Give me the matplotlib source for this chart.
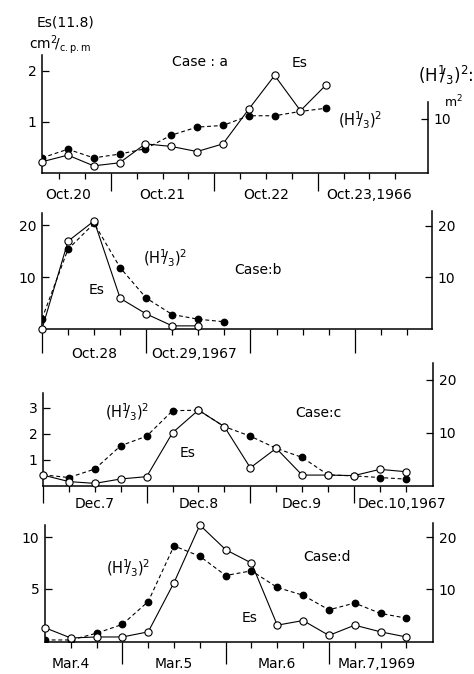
import matplotlib
matplotlib.use("Agg")
import matplotlib.pyplot as plt

W, H = 474, 674

# Case a: Oct 20-23, 1966 (hours from Oct 20 00h)
a_hours = [8, 14, 20, 26, 32, 38, 44, 50, 56, 62, 68, 74]
a_es = [0.22, 0.35, 0.14, 0.2, 0.57, 0.52, 0.42, 0.57, 1.25, 1.91, 1.22, 1.73]
a_h2 = [2.8, 4.4, 2.8, 3.5, 4.5, 7.0, 8.5, 8.8, 10.6, 10.6, 11.4, 12.0]
a_days = ["Oct.20", "Oct.21", "Oct.22", "Oct.23,1966"]

# Case b: Oct 28-29, 1967 (hours from Oct 28 00h)
b_es_hours = [0, 6, 12, 18, 24, 30, 36]
b_es = [0.0, 16.9, 20.8, 5.9, 2.9, 0.6, 0.6]
b_h2_hours = [0, 6, 12, 18, 24, 30, 36, 42]
b_h2 = [2.0, 15.5, 20.5, 11.9, 6.0, 2.8, 1.9, 1.4]
b_days = ["Oct.28", "Oct.29,1967"]

# Case c: Dec 7-10, 1967 (hours from Dec 7 00h)
c_hours = [0, 6, 12, 18, 24, 30, 36, 42, 48, 54, 60, 66, 72, 78, 84]
c_es = [0.42, 0.17, 0.1, 0.27, 0.36, 2.05, 2.92, 2.28, 0.7, 1.45, 0.42, 0.42, 0.4, 0.64, 0.55]
c_h2 = [2.1, 1.6, 3.2, 7.6, 9.4, 14.2, 14.3, 11.2, 9.4, 7.1, 5.4, 2.1, 1.9, 1.6, 1.3]
c_days = ["Dec.7", "Dec.8", "Dec.9", "Dec.10,1967"]

# Case d: Mar 4-7, 1969 (hours from Mar 4 00h)
d_hours = [6, 12, 18, 24, 30, 36, 42, 48, 54, 60, 66, 72, 78, 84, 90]
d_es = [1.2, 0.2, 0.3, 0.3, 0.8, 5.6, 11.2, 8.8, 7.5, 1.45, 1.9, 0.45, 1.45, 0.8, 0.3]
d_h2 = [0.2, 0.2, 1.5, 3.2, 7.6, 18.3, 16.3, 12.6, 13.5, 10.3, 8.8, 6.0, 7.3, 5.3, 4.4]
d_days = ["Mar.4", "Mar.5", "Mar.6", "Mar.7,1969"]

H2 = r"(H$^{1}\!\!/_{3}$)$^{2}$"
FS = 10

fig = plt.figure(figsize=(W / 100, H / 100), dpi=100)


def panel(box, xlim, ylim_l, ylim_r, left_top, right_top, lticks, rticks,
          majors, minors, tick_len, label_x, label_off, days):
    left, right, top, bottom = box
    ax = fig.add_axes([left / W, 1 - bottom / H, (right - left) / W, (bottom - top) / H])
    ax.set_xlim(*xlim)
    ax.set_ylim(*ylim_l)
    ax2 = ax.twinx()
    ax2.set_ylim(*ylim_r)
    for s in ["top", "right"]:
        ax.spines[s].set_visible(False)
    for s in ["top", "left", "bottom"]:
        ax2.spines[s].set_visible(False)
    ax.spines["left"].set_bounds(ylim_l[0], left_top)
    ax2.spines["right"].set_bounds(ylim_r[0], right_top)
    for sp in [ax.spines["left"], ax.spines["bottom"], ax2.spines["right"]]:
        sp.set_linewidth(1.1)
    ax.set_yticks(lticks)
    ax.set_yticklabels([str(t) for t in lticks])
    ax2.set_yticks(rticks)
    ax2.set_yticklabels([str(t) for t in rticks])
    ax.tick_params(axis="y", direction="in", length=5, width=0.9, labelsize=FS, pad=4)
    ax2.tick_params(axis="y", direction="in", length=5, width=0.9, labelsize=FS, pad=4)
    ax.set_xticks(majors)
    ax.set_xticks(minors, minor=True)
    ax.tick_params(axis="x", which="major", direction="out", length=tick_len, width=0.9,
                   labelbottom=False)
    ax.tick_params(axis="x", which="minor", direction="out", length=4, width=0.9)
    for x, d in zip(label_x, days):
        ax.annotate(d, xy=(x, 0), xycoords=("data", "axes fraction"),
                    xytext=(0, -label_off), textcoords="offset points",
                    ha="center", va="center", fontsize=FS)
    return ax, ax2


def draw(ax, ax2, xe, es, xh, h2):
    ax2.plot(xh, h2, color="black", lw=0.8, ls=(0, (3.5, 2.5)), marker="o", ms=4.6,
             mfc="black", mec="black", zorder=2)
    ax.set_zorder(ax2.get_zorder() + 1)
    ax.patch.set_visible(False)
    ax.plot(xe, es, color="black", lw=0.8, marker="o", ms=5.2, mfc="white",
            mec="black", mew=0.8, zorder=3, clip_on=False)


def ftext(x, y, s, size=FS):
    fig.text(x / W, 1 - y / H, s, ha="center", va="center", fontsize=size)


six = [h for h in range(6, 96, 6) if h % 24]

# Case a
ax, ax2 = panel((42, 428, 55, 173), (8, 97.6), (0, 2.31), (0, 21.85), 2.31, 13.1,
                [1, 2], [10], [24, 48, 72], [h for h in six if h >= 12 and h <= 90],
                13, [14, 36, 60, 84], 16, a_days)
draw(ax, ax2, a_hours, a_es, a_hours, a_h2)
ftext(65, 22, "Es(11.8)")
ftext(60, 45, r"cm$^{2}\!$/$_{\mathrm{c.p.m}}$")
ftext(200, 62, "Case : a")
ftext(300, 63, "Es")
ftext(360, 120, H2, 10.5)
ftext(446, 75, H2 + ":", 12)
ftext(453, 102, r"m$^{2}$", 9)

# Case b
ax, ax2 = panel((42, 432, 211, 329), (0, 89.8), (0, 22.7), (0, 22.9), 22.3, 22.9,
                [10, 20], [10, 20], [0, 24, 48, 72], [h for h in six if h <= 84],
                17, [12, 35], 18, b_days)
draw(ax, ax2, b_es_hours, b_es, b_h2_hours, b_h2)
ftext(165, 258, H2, 10.5)
ftext(97, 290, "Es")
ftext(258, 270, "Case:b")

# Case c
ax, ax2 = panel((43, 433, 363, 486), (0, 90.3), (0, 4.73), (0, 23.2), 3.58, 23.2,
                [1, 2, 3], [10, 20], [0, 24, 48, 72], [h for h in six if h <= 84],
                12, [12, 36, 60, 83], 13, c_days)
draw(ax, ax2, c_hours, c_es, c_hours, c_h2)
ftext(127, 412, H2, 10.5)
ftext(188, 453, "Es")
ftext(318, 413, "Case:c")

# Case d
ax, ax2 = panel((45, 433, 523, 642), (6, 96.2), (-0.19, 11.4), (-0.19, 22.7), 11.2, 22.7,
                [5, 10], [10, 20], [24, 48, 72], [h for h in six if h >= 12 and h <= 90],
                16, [12, 36, 60, 83], 16, d_days)
draw(ax, ax2, d_hours, d_es, d_hours, d_h2)
ftext(128, 568, H2, 10.5)
ftext(250, 618, "Es")
ftext(327, 557, "Case:d")

fig.savefig("out.png", dpi=100)
